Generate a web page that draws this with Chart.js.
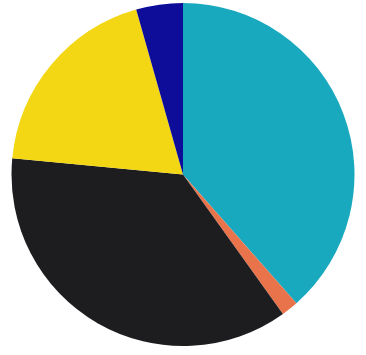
<!DOCTYPE html>
<html>
<head>
<meta charset="utf-8">
<script src="https://cdn.jsdelivr.net/npm/chart.js@4/dist/chart.umd.min.js"></script>
<style>
html,body{margin:0;padding:0;background:#fff;}
#wrap{width:366px;height:355px;}
</style>
</head>
<body>
<div id="wrap"><canvas id="c" width="366" height="355"></canvas></div>
<script>
const categories = ["Cyan", "Orange", "Black", "Yellow", "Blue"];
const values = [38.5, 1.6, 36.4, 19.1, 4.4];
const colors = ["#19a9bf", "#e9734a", "#1d1d20", "#f4d714", "#0d0d9a"];

new Chart(document.getElementById("c"), {
  type: "pie",
  data: {
    labels: categories,
    datasets: [{
      data: values,
      backgroundColor: colors,
      borderWidth: 0
    }]
  },
  options: {
    responsive: false,
    animation: false,
    layout: { padding: { top: 3, bottom: 9, left: 0, right: 0 } },
    plugins: { legend: { display: false }, tooltip: { enabled: false } }
  }
});
</script>
</body>
</html>
